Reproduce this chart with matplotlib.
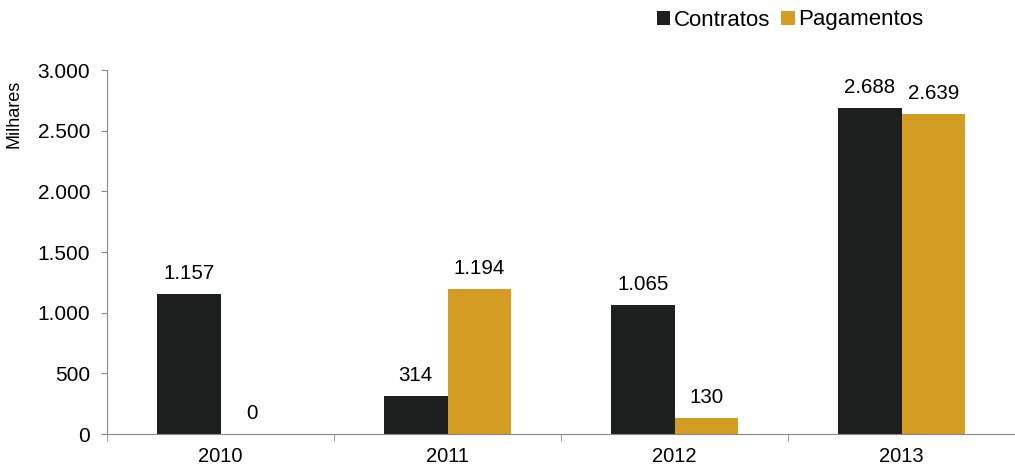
import matplotlib.pyplot as plt
import numpy as np

plt.rcParams['font.family'] = ['Liberation Sans', 'DejaVu Sans']

anos = ['2010', '2011', '2012', '2013']
contratos = [1157, 314, 1065, 2688]
pagamentos = [0, 1194, 130, 2639]

COR_CONTRATOS = '#1e2020'
COR_PAGAMENTOS = '#d49c22'


def fmt_pt(v):
    return f'{v:,.0f}'.replace(',', '.')


fig = plt.figure(figsize=(10.15, 4.65), dpi=100)
ax = fig.add_axes([107 / 1015, 1 - 434 / 465, 1 - 107 / 1015, 364 / 465])

x = np.arange(len(anos))
w = 0.28
b1 = ax.bar(x - w / 2, contratos, w, color=COR_CONTRATOS, label='Contratos')
b2 = ax.bar(x + w / 2, pagamentos, w, color=COR_PAGAMENTOS, label='Pagamentos')

for bars, vals in ((b1, contratos), (b2, pagamentos)):
    for r, v in zip(bars, vals):
        ax.annotate(fmt_pt(v), (r.get_x() + r.get_width() / 2, v),
                    xytext=(0, 8), textcoords='offset points',
                    ha='center', va='bottom', fontsize=14.8)

ax.set_xlim(-0.5, 3.5)
ax.set_ylim(0, 3000)
ax.set_yticks(range(0, 3001, 500))
ax.set_yticklabels([fmt_pt(v) for v in range(0, 3001, 500)], fontsize=15)
ax.set_xticks(x)
ax.set_xticklabels(anos, fontsize=14.5)
ax.set_xticks(np.arange(-0.5, 3.6, 1), minor=True)
ax.tick_params(axis='x', which='major', length=0, pad=9)
ax.tick_params(axis='x', which='minor', length=5, color='#888888', direction='out')
ax.tick_params(axis='y', length=4, color='#888888', pad=8)

for s in ('top', 'right'):
    ax.spines[s].set_visible(False)
for s in ('left', 'bottom'):
    ax.spines[s].set_color('#888888')

ax.set_ylabel('Milhares', fontsize=13)
ax.yaxis.set_label_coords(-0.093, 0.88)

fig.legend(handles=[b1, b2], loc='center', bbox_to_anchor=(790 / 1015, 1 - 20 / 465),
           ncol=2, frameon=False, fontsize=16, handlelength=0.6, handleheight=0.6,
           handletextpad=0.15, columnspacing=0.5)

fig.savefig('out.png', dpi=100)
